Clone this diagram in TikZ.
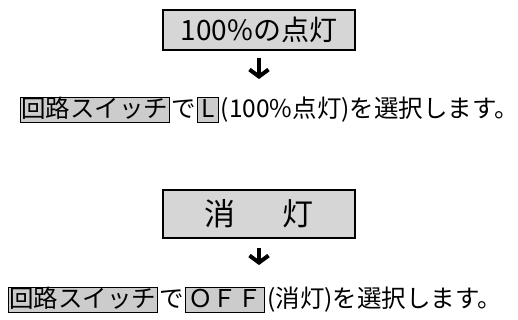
\documentclass[tikz,border=0pt]{standalone}
\usepackage{fontspec}
\setmainfont{Noto Sans CJK JP}
\usetikzlibrary{positioning,arrows.meta}
\tikzset{
semithick,
>=stealth,
title/.style={draw,line width=1.2pt,fill=black!16,minimum width=192pt,inner sep=0pt},
key/.style={draw,line width=0.9pt,fill=black!20,inner xsep=1pt,inner ysep=0pt,text height=20pt,text depth=5pt},
plain/.style={inner sep=0pt},
arr/.style={line width=4.5pt,-{Straight Barb[length=7pt,width=19pt,line width=4pt]}}
}

\begin{document}
\begin{tikzpicture}[x=1pt,y=-1pt,font=\fontsize{24.5}{27}\selectfont]
\useasboundingbox (0,0) rectangle (518,320);

\node[title,minimum height=40pt,font=\fontsize{28}{30}\selectfont] (on) at (259,30) {100\%の点灯};
\node[key,anchor=west] (sw1) at (20,110) {回路スイッチ};
\node[plain,base right=1pt of sw1] (de1) {で};
\node[key,minimum width=21pt,base right=1pt of de1] (l1) {L};
\node[plain,base right=2pt of l1] (t1) {(100\%点灯)を選択します。};

\node[title,minimum height=48pt,font=\fontsize{31}{33}\selectfont] (off) at (259,214) {消\hspace{48pt}灯};
\node[key,anchor=west] (sw2) at (8,300) {回路スイッチ};
\node[plain,base right=1pt of sw2] (de2) {で};
\node[key,inner xsep=3pt,base right=1pt of de2] (o2) {ＯＦＦ};
\node[plain,base right=2pt of o2] (t2) {(消灯)を選択します。};

\draw[arr,shorten <=7pt,shorten >=18pt] (on.south) -- (on.south |- sw1.north);
\draw[arr,shorten <=9pt,shorten >=22pt] (off.south) -- (off.south |- sw2.north);
\end{tikzpicture}
\end{document}
